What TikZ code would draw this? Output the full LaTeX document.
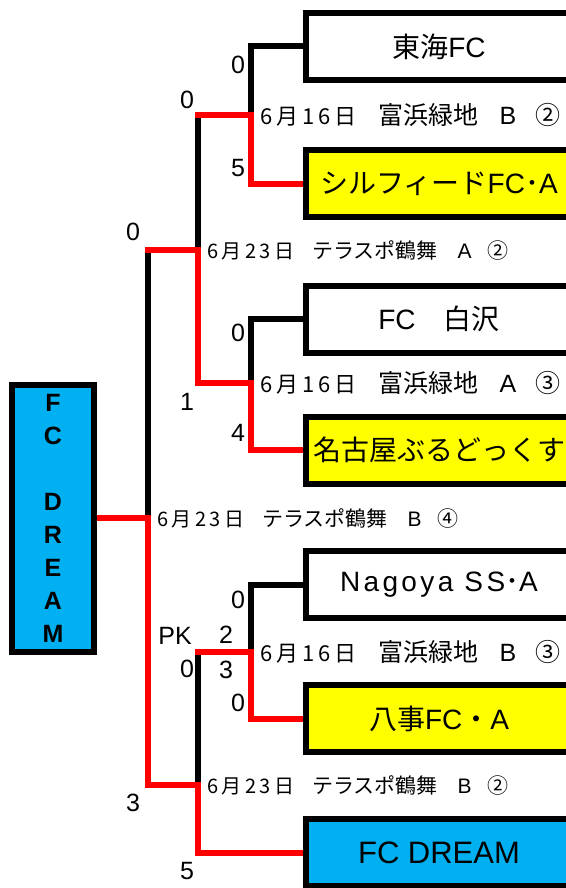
\documentclass[tikz,border=0pt]{standalone}
\usepackage{fontspec}
\setmainfont{Liberation Sans}
\newfontfamily\jp{Noto Sans CJK JP}
\usetikzlibrary{positioning,backgrounds}

\definecolor{winred}{RGB}{255,0,0}
\definecolor{winyellow}{RGB}{255,255,0}
\definecolor{dreamblue}{RGB}{0,176,240}

% date labels: day, court, match number
\newcommand{\fieldday}[3]{{\jp\fontsize{22}{22}\selectfont\addfontfeature{LetterSpace=18}#1}\hspace{22pt}{\jp 富浜緑地}\hspace{21pt}#2\hspace{19pt}{\jp #3}}
\newcommand{\parkday}[3]{{\jp\fontsize{20}{20}\selectfont\addfontfeature{LetterSpace=17}#1}\hspace{18pt}{\jp テラスポ鶴舞}\hspace{20pt}#2\hspace{16pt}{\jp #3}}

\tikzset{
  team/.style={draw=black, fill=white, line width=6pt, minimum width=266pt, minimum height=67pt, inner sep=0pt, font=\fontsize{28}{28}\selectfont},
  winner/.style={team, fill=winyellow},
  home/.style={team, fill=dreamblue},
  bigbox/.style={draw=black, fill=dreamblue, line width=6pt, minimum width=82pt, minimum height=267pt, inner sep=0pt, align=center, font=\bfseries\fontsize{25}{33}\selectfont},
  lost/.style={draw=black, line width=6pt, line cap=rect},
  won/.style={draw=winred, line width=6pt, line cap=rect},
  score/.style={inner sep=0pt, font=\fontsize{25}{25}\selectfont},
  date/.style={anchor=west, inner sep=0pt, right=9pt of #1, font=\fontsize{21}{21}\selectfont},
  widedate/.style={date=#1, font=\fontsize{25}{25}\selectfont},
}

\begin{document}
\begin{tikzpicture}[x=1pt,y=1pt,yscale=-1,xscale=1]
\useasboundingbox (0,0) rectangle (565,888);

% Team boxes
\node (t1) [team] at (439,46.5) {{\jp 東海}FC};
\node (t2) [winner] at (439,183.5) {{\jp シルフィード}FC{\jp ･}A};
\node (t3) [team] at (439,319) {FC{\jp 　白沢}};
\node (t4) [winner] at (439,450) {\jp 名古屋ぶるどっくす};
\node (t5) [team] at (439,584.5) {{\addfontfeature{LetterSpace=12}Nagoya SS}{\jp ･}A};
\node (t6) [winner] at (439,718.5) {{\jp 八事}FC{\jp ・}A};
\node (t7) [home, font=\fontsize{31}{31}\selectfont] at (439,852.5) {FC DREAM};
% Shape: big box
\node (dream) [bigbox] at (53,518) {F\\C\\[33pt]D\\R\\E\\A\\M};

% Junctions
\coordinate (m1) at (251,115);
\coordinate (m2) at (251,383);
\coordinate (m3) at (251,652);
\coordinate (s1) at (198,250);
\coordinate (s2) at (198,785);
\coordinate (f) at (148,518);

\begin{scope}[on background layer]
%Straight Lines: losing side
\draw [lost] (t1.west) -| (m1);
\draw [lost] (t3.west) -| (m2);
\draw [lost] (t5.west) -| (m3);
\draw [lost] (m1 -| s1) -- (s1);
\draw [lost] (m3 -| s2) -- (s2);
\draw [lost] (s1 -| f) -- (f);
%Straight Lines: winning side
\draw [won] (t2.west) -| (m1) -- (m1 -| s1);
\draw [won] (t4.west) -| (m2) -- (m2 -| s1) -- (s1) -- (s1 -| f);
\draw [won] (t6.west) -| (m3) -- (m3 -| s2);
\draw [won] (t7.west) -| (s2) -- (s2 -| f) -- (f) -- (dream.east);
\end{scope}

% Text Node: dates
\node (d1) [widedate=m1] {\fieldday{6月16日}{B}{②}};
\node (d2) [date=s1] {\parkday{6月23日}{A}{②}};
\node (d3) [widedate=m2] {\fieldday{6月16日}{A}{③}};
\node (d4) [date=f] {\parkday{6月23日}{B}{④}};
\node (d5) [widedate=m3] {\fieldday{6月16日}{B}{③}};
\node (d6) [date=s2] {\parkday{6月23日}{B}{②}};

% Text Node: scores
\node (a1) [score] at (238,65) {0};
\node (a2) [score] at (238,168) {5};
\node (a3) [score] at (187,100) {0};
\node (a4) [score] at (133,232) {0};
\node (a5) [score] at (238,333) {0};
\node (a6) [score] at (187,402) {1};
\node (a7) [score] at (238,433) {4};
\node (a8) [score] at (238,600) {0};
\node (pk) [score] at (175,636) {PK};
\node (a9) [score] at (226,635) {2};
\node (a10) [score] at (187,669) {0};
\node (a11) [score] at (226,670) {3};
\node (a12) [score] at (238,703) {0};
\node (a13) [score] at (133,803) {3};
\node (a14) [score] at (187,871) {5};

\end{tikzpicture}
\end{document}
